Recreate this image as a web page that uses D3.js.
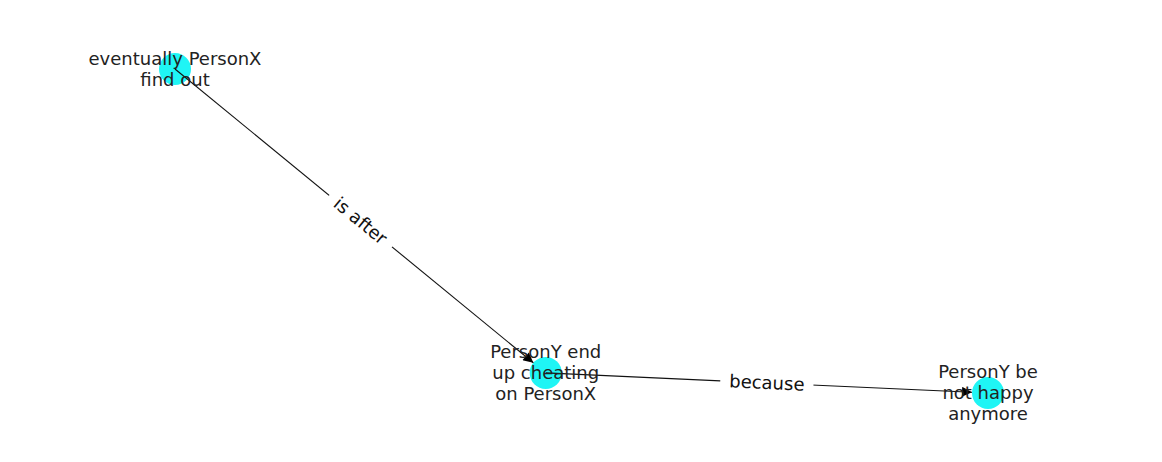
<!DOCTYPE html>
<html><head><meta charset="utf-8">
<script src="https://cdn.jsdelivr.net/npm/d3@7"></script>
<style>body{margin:0;background:#fff}</style>
</head><body>
<div id="chart"></div>
<script>
// node data (layout coordinates)
const nodeNames = ["eventually PersonX\nfind out", "PersonY end\nup cheating\non PersonX", "PersonY be\nnot happy\nanymore"];
const nodeX = [0.0, 0.456, 1.0];
const nodeY = [1.0, 0.062, 0.0];
const edgeSource = [0, 1];
const edgeTarget = [1, 2];
const edgeLabels = ["is after", "because"];

const width = 1162, height = 462;
const x = d3.scaleLinear().domain([0, 1]).range([175, 988]);
const y = d3.scaleLinear().domain([0, 1]).range([393, 69]);
const r = 16;

const svg = d3.select("#chart").append("svg")
  .attr("width", width).attr("height", height);

svg.append("defs").append("marker")
  .attr("id", "arrow").attr("viewBox", "0 0 10 10")
  .attr("refX", 10).attr("refY", 5)
  .attr("markerWidth", 13).attr("markerHeight", 10)
  .attr("markerUnits", "userSpaceOnUse")
  .attr("orient", "auto")
  .append("path").attr("d", "M0,0L10,5L0,10z").attr("fill", "#000");

const edges = edgeSource.map((s, i) => ({ s, t: edgeTarget[i], label: edgeLabels[i] }));

// nodes first so edges and labels sit on top
svg.selectAll("circle").data(nodeNames).join("circle")
  .attr("cx", (d, i) => x(nodeX[i]))
  .attr("cy", (d, i) => y(nodeY[i]))
  .attr("r", r)
  .attr("fill", "#1ff5f5");

svg.selectAll("line.edge").data(edges).join("line")
  .attr("class", "edge")
  .each(function (d) {
    const x1 = x(nodeX[d.s]), y1 = y(nodeY[d.s]);
    const x2 = x(nodeX[d.t]), y2 = y(nodeY[d.t]);
    const len = Math.hypot(x2 - x1, y2 - y1);
    const ux = (x2 - x1) / len, uy = (y2 - y1) / len;
    d3.select(this)
      .attr("x1", x1).attr("y1", y1)
      .attr("x2", x2 - ux * r).attr("y2", y2 - uy * r);
  })
  .attr("stroke", "#111").attr("stroke-width", 1.1)
  .attr("marker-end", "url(#arrow)");

// node labels
svg.selectAll("text.node").data(nodeNames).join("text")
  .attr("class", "node")
  .attr("font-family", "DejaVu Sans")
  .attr("font-size", 18)
  .attr("fill", "#222")
  .attr("text-anchor", "middle")
  .each(function (d, i) {
    const lines = d.split("\n");
    const t = d3.select(this);
    const cx = x(nodeX[i]), cy = y(nodeY[i]);
    lines.forEach((l, k) => {
      t.append("tspan").attr("x", cx)
        .attr("y", cy + (k - (lines.length - 1) / 2) * 21 + 6)
        .text(l);
    });
  });

// edge labels with white boxes
const eg = svg.selectAll("g.elabel").data(edges).join("g")
  .attr("class", "elabel")
  .attr("transform", d => {
    const x1 = x(nodeX[d.s]), y1 = y(nodeY[d.s]);
    const x2 = x(nodeX[d.t]), y2 = y(nodeY[d.t]);
    const a = Math.atan2(y2 - y1, x2 - x1) * 180 / Math.PI;
    return `translate(${(x1 + x2) / 2},${(y1 + y2) / 2}) rotate(${a})`;
  });
eg.append("text")
  .attr("font-family", "DejaVu Sans").attr("font-size", 18)
  .attr("fill", "#111").attr("text-anchor", "middle").attr("dy", 6)
  .text(d => d.label);
eg.each(function () {
  const g = d3.select(this);
  const b = g.select("text").node().getBBox();
  g.insert("rect", "text")
    .attr("x", b.x - 9).attr("y", b.y - 2)
    .attr("width", b.width + 18).attr("height", b.height + 4)
    .attr("fill", "#fff");
});
</script>
</body></html>
